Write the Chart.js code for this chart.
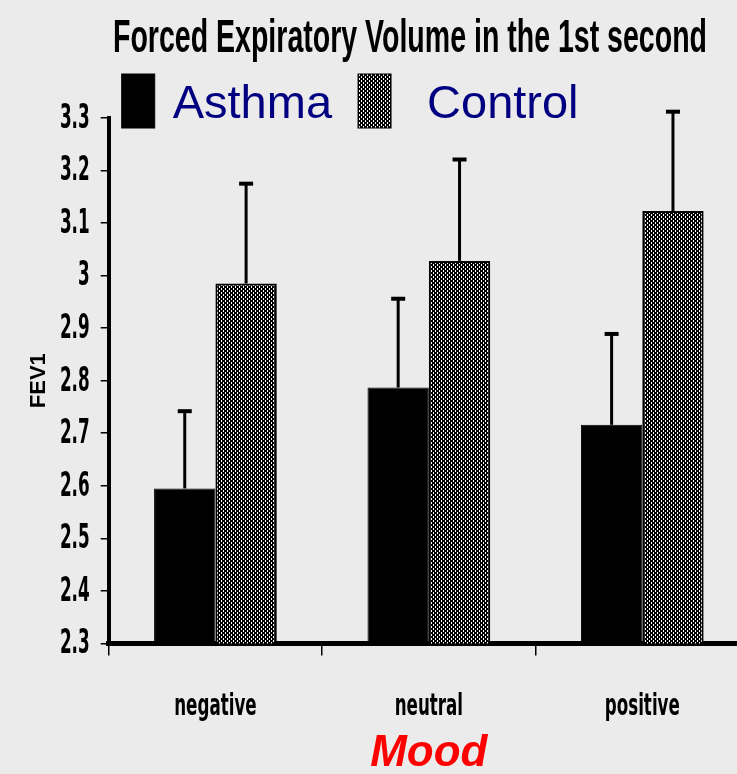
<!DOCTYPE html>
<html>
<head>
<meta charset="utf-8">
<script src="https://cdn.jsdelivr.net/npm/chart.js@4.4.1/dist/chart.umd.min.js"></script>
<style>
  html, body { margin: 0; padding: 0; background: #ebebeb; overflow: hidden; }
</style>
</head>
<body>
<canvas id="fevChart" width="752" height="774"></canvas>
<script>
  'use strict';

  const moods = ['negative', 'neutral', 'positive'];
  const asthmaFev = [2.595, 2.787, 2.716];
  const controlFev = [2.985, 3.028, 3.123];
  const asthmaUpper = [2.742, 2.956, 2.889];
  const controlUpper = [3.175, 3.221, 3.312];
  const groupNames = ['Asthma', 'Control'];

  const CONDENSED = '"DejaVu Sans Condensed", "Liberation Sans Narrow", "Liberation Sans", sans-serif';
  const SANS = '"Liberation Sans", Arial, sans-serif';

  // stippled fill used for the control bars
  function stipple() {
    const c = document.createElement('canvas');
    c.width = 4; c.height = 4;
    const g = c.getContext('2d');
    g.fillStyle = '#000';
    g.fillRect(0, 0, 4, 4);
    g.fillStyle = '#fff';
    g.fillRect(1, 0, 1, 1);
    g.fillRect(1, 1, 1, 1);
    g.fillRect(3, 2, 1, 1);
    g.fillRect(3, 3, 1, 1);
    return g.createPattern(c, 'repeat');
  }

  // text squeezed sideways, like the condensed type of the scan
  function squeezed(ctx, text, x, y, squeeze) {
    ctx.save();
    ctx.translate(x, y);
    ctx.scale(squeeze, 1);
    ctx.fillText(text, 0, 0);
    ctx.restore();
  }

  const controlFill = stipple();
  const uppers = [asthmaUpper, controlUpper];
  const tickText = (v) => String(+Number(v).toFixed(1));

  const errorBars = {
    id: 'errorBars',
    afterDatasetsDraw(chart) {
      const ctx = chart.ctx;
      const y = chart.scales.y;
      ctx.save();
      ctx.strokeStyle = '#000';
      chart.data.datasets.forEach((ds, di) => {
        chart.getDatasetMeta(di).data.forEach((bar, i) => {
          const top = y.getPixelForValue(uppers[di][i]);
          ctx.lineWidth = 3;
          ctx.beginPath();
          ctx.moveTo(bar.x, bar.y);
          ctx.lineTo(bar.x, top);
          ctx.stroke();
          ctx.lineWidth = 4;
          ctx.beginPath();
          ctx.moveTo(bar.x - 7, top);
          ctx.lineTo(bar.x + 7, top);
          ctx.stroke();
        });
      });
      ctx.restore();
    }
  };

  // title, legend and the condensed tick labels
  const decorations = {
    id: 'decorations',
    afterDraw(chart) {
      const ctx = chart.ctx;
      const area = chart.chartArea;
      ctx.save();

      const title = 'Forced Expiratory Volume in the 1st second';
      ctx.fillStyle = '#000';
      ctx.font = 'bold 46px ' + SANS;
      ctx.textAlign = 'center';
      ctx.textBaseline = 'alphabetic';
      squeezed(ctx, title, 410, 52, 594 / ctx.measureText(title).width);

      // legend (the scan leaves a wider gap before "Control")
      const textGap = [18, 36];
      ctx.font = '47px ' + SANS;
      ctx.textAlign = 'left';
      let x = area.left + 13;
      chart.data.datasets.forEach((ds, i) => {
        ctx.fillStyle = ds.backgroundColor;
        ctx.fillRect(x, 74, 33, 54);
        ctx.strokeStyle = '#000';
        ctx.lineWidth = 1;
        ctx.strokeRect(x, 74, 33, 54);
        x += 33 + textGap[i];
        ctx.fillStyle = '#000080';
        ctx.fillText(ds.label, x, 118);
        x += ctx.measureText(ds.label).width + 26;
      });

      // mood labels under each group
      const xs = chart.scales.x;
      ctx.fillStyle = '#000';
      ctx.font = 'bold 31px ' + CONDENSED;
      ctx.textAlign = 'center';
      chart.data.labels.forEach((lab, i) => {
        squeezed(ctx, lab, xs.getPixelForValue(i), area.bottom + 72, 0.6);
      });

      // FEV1 tick labels
      const ys = chart.scales.y;
      ctx.font = 'bold 34px ' + CONDENSED;
      ctx.textAlign = 'right';
      ctx.textBaseline = 'middle';
      ys.ticks.forEach((t) => {
        squeezed(ctx, tickText(t.value), ys.right - 19, ys.getPixelForValue(t.value) + 1, 0.55);
      });
      ctx.restore();
    }
  };

  new Chart(document.getElementById('fevChart'), {
    type: 'bar',
    data: {
      labels: moods,
      datasets: [
        {
          label: groupNames[0],
          data: asthmaFev,
          backgroundColor: '#000',
          borderColor: '#000',
          borderWidth: 1
        },
        {
          label: groupNames[1],
          data: controlFev,
          backgroundColor: controlFill,
          borderColor: '#000',
          borderWidth: 2
        }
      ]
    },
    options: {
      responsive: false,
      animation: false,
      devicePixelRatio: 1,
      categoryPercentage: 0.575,
      barPercentage: 1.0,
      layout: { padding: { top: 118, left: 26, right: 3, bottom: 0 } },
      plugins: {
        legend: { display: false },
        tooltip: { enabled: false }
      },
      scales: {
        x: {
          grid: { drawOnChartArea: false, tickLength: 12, color: '#000', lineWidth: 1.5 },
          border: { color: '#000', width: 5 },
          ticks: {
            color: 'rgba(0,0,0,0)',
            padding: 15,
            font: { family: CONDENSED, size: 20, weight: 'bold' }
          },
          title: {
            display: true,
            text: 'Mood',
            color: '#ff0000',
            padding: { top: 25, bottom: 0 },
            font: { family: SANS, size: 44, weight: 'bold', style: 'italic', lineHeight: 0.9 }
          }
        },
        y: {
          min: 2.3,
          max: 3.3,
          ticks: {
            stepSize: 0.1,
            color: 'rgba(0,0,0,0)',
            padding: 10,
            font: { family: CONDENSED, size: 14, weight: 'bold' },
            callback: tickText
          },
          grid: { drawOnChartArea: false, tickLength: 8, color: '#000', lineWidth: 1.5 },
          border: { color: '#000', width: 4 },
          title: {
            display: true,
            text: 'FEV1',
            color: '#000',
            padding: { top: 0, bottom: 6 },
            font: { family: SANS, size: 22, weight: 'bold' }
          }
        }
      }
    },
    plugins: [errorBars, decorations]
  });
</script>
</body>
</html>
